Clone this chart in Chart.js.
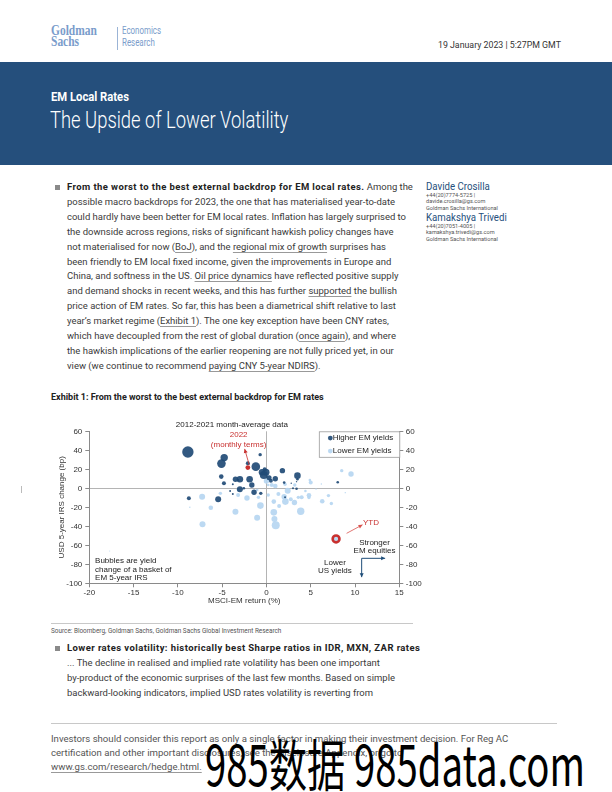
<!DOCTYPE html>
<html><head><meta charset="utf-8">
<script src="https://cdn.jsdelivr.net/npm/chart.js@4.4.1/dist/chart.umd.min.js"></script>
<style>
html,body{margin:0;padding:0;background:#fff;}
body{width:612px;height:792px;position:relative;overflow:hidden;font-family:Roboto,"Liberation Sans",sans-serif;color:#3a3a3a;}
.a{position:absolute;white-space:nowrap;}
.u{text-decoration:underline;text-decoration-color:#999;text-underline-offset:1.5px;}
.bl{font-size:10px;line-height:14.9px;}
.bl b{letter-spacing:0.42px;color:#222;}
.sq{position:absolute;width:5px;height:5px;background:#8a8a8a;}
.hr{position:absolute;height:1px;background:#c8c8c8;}
.sm{font-size:5.6px;line-height:6.4px;color:#555;}
.nm{font-size:10.5px;color:#254f7c;transform:scaleX(0.92);transform-origin:0 0;}
</style></head><body>

<!-- header -->
<div class="a" style="left:51px;top:24px;font-family:'Liberation Serif',serif;font-weight:bold;font-size:15.5px;line-height:11px;color:#7a9ccb;transform:scaleX(0.74);transform-origin:0 0;">Goldman<br>Sachs</div>
<div style="position:absolute;left:117px;top:27px;width:1px;height:23px;background:#9bb4d6;"></div>
<div class="a" style="left:122px;top:25px;font-size:11px;line-height:12px;color:#7a9ccb;transform:scaleX(0.72);transform-origin:0 0;">Economics<br>Research</div>
<div class="a" style="right:51px;top:39px;font-size:9.5px;color:#333;transform:scaleX(0.925);transform-origin:100% 0;">19 January 2023 | 5:27PM GMT</div>

<div style="position:absolute;left:0;top:62px;width:612px;height:103px;background:#254f7c;"></div>
<div class="a" style="left:51px;top:89px;font-size:12.5px;font-weight:bold;color:#fff;transform:scaleX(0.9);transform-origin:0 0;">EM Local Rates</div>
<div class="a" style="left:50px;top:107px;font-size:23px;color:#fff;font-weight:300;transform:scaleX(0.8);transform-origin:0 0;">The Upside of Lower Volatility</div>

<!-- first bullet -->
<div class="sq" style="left:55px;top:185px;"></div>
<div class="a bl" id="p1" style="left:67px;top:180px;">
<div><b>From the worst to the best external backdrop for EM local rates.</b> Among the</div>
<div>possible macro backdrops for 2023, the one that has materialised year-to-date</div>
<div id="refline">could hardly have been better for EM local rates. Inflation has largely surprised to</div>
<div>the downside across regions, risks of significant hawkish policy changes have</div>
<div>not materialised for now (<span class="u">BoJ</span>), and the <span class="u">regional mix of growth</span> surprises has</div>
<div>been friendly to EM local fixed income, given the improvements in Europe and</div>
<div>China, and softness in the US. <span class="u">Oil price dynamics</span> have reflected positive supply</div>
<div>and demand shocks in recent weeks, and this has further <span class="u">supported</span> the bullish</div>
<div>price action of EM rates. So far, this has been a diametrical shift relative to last</div>
<div>year’s market regime (<span class="u">Exhibit 1</span>). The one key exception have been CNY rates,</div>
<div>which have decoupled from the rest of global duration (<span class="u">once again</span>), and where</div>
<div>the hawkish implications of the earlier reopening are not fully priced yet, in our</div>
<div>view (we continue to recommend <span class="u">paying CNY 5-year NDIRS</span>).</div>
</div>

<!-- authors -->
<div class="a nm" style="left:426px;top:180px;">Davide Crosilla</div>
<div class="a sm" style="left:426px;top:192px;">+44(20)7774-5725 |<br>davide.crosilla@gs.com<br>Goldman Sachs International</div>
<div class="a nm" style="left:426px;top:211px;">Kamakshya Trivedi</div>
<div class="a sm" style="left:426px;top:223px;">+44(20)7051-4005 |<br>kamakshya.trivedi@gs.com<br>Goldman Sachs International</div>

<div style="position:absolute;left:21px;top:486px;width:1px;height:7px;background:#bbb;"></div>

<!-- exhibit -->
<div class="a" style="left:51px;top:392px;font-size:9px;font-weight:bold;color:#222;">Exhibit 1: From the worst to the best external backdrop for EM rates</div>
<canvas id="c" width="390" height="200" style="position:absolute;left:40px;top:410px;"></canvas>
<div class="hr" style="left:51px;top:623px;width:362px;"></div>
<div class="a" style="left:51px;top:627px;font-size:6.4px;color:#555;">Source: Bloomberg, Goldman Sachs, Goldman Sachs Global Investment Research</div>

<!-- second bullet -->
<div class="sq" style="left:55px;top:646px;"></div>
<div class="a bl" id="p2" style="left:67px;top:641px;">
<div><b>Lower rates volatility: historically best Sharpe ratios in IDR, MXN, ZAR rates</b></div>
<div>... The decline in realised and implied rate volatility has been one important</div>
<div>by-product of the economic surprises of the last few months. Based on simple</div>
<div>backward-looking indicators, implied USD rates volatility is reverting from</div>
</div>

<div class="hr" style="left:51px;top:723px;width:506px;"></div>
<div class="a" id="disc" style="left:51px;top:732px;font-size:9.6px;line-height:14px;color:#555;">
<div>Investors should consider this report as only a single factor in making their investment decision. For Reg AC</div>
<div>certification and other important disclosures, see the Disclosure Appendix, or go to</div>
<div class="u">www.gs.com/research/hedge.html.</div>
</div>
<svg style="position:absolute;left:205px;top:726px;overflow:visible;" width="385" height="66">
<text x="0" y="60" font-family="Noto Sans CJK SC, Noto Sans, sans-serif" font-size="56" fill="#000" textLength="380" lengthAdjust="spacingAndGlyphs">985数据 985data.com</text>
</svg>

<script>
// ---------------- data ----------------
const xTickValues = [-20, -15, -10, -5, 0, 5, 10, 15];
const yTickValues = [-100, -80, -60, -40, -20, 0, 20, 40, 60];

// Higher EM yields (2012-2021 month averages): MSCI-EM return (%), USD 5y IRS change (bp), bubble size
const higherX = [-8.87,-4.77,-5.08,-0.71,-2.1,-1.2,-0.5,-0.3,-0.05,1.0,1.8,3.5,3.5,-5.1,-4.8,-3.5,-3.0,-1.9,-1.65,-3.0,-1.4,-0.64,-8.76,-5.45,-3.8,-3.2,-4.1,-3.8,-2.55,0.5,2.0,3.0,3.4,8.05,2.1,2.8,3.4,0.3,-0.2];
const higherY = [38.2,32.3,26.0,35.4,26.3,22.8,16.8,14.0,17.0,10.0,18.6,13.3,9.5,12.3,5.3,9.5,9.5,9.5,3.5,-1.0,-4.2,-5.3,-10.5,-11.6,4.2,8.8,-2.8,-6.0,0.0,8.0,6.0,0.0,-0.4,6.3,-9.5,5.3,7.0,11.0,20.0];
const higherR = [5.7,3.7,4.3,1.7,2.0,4.3,3.3,4.0,3.5,2.7,2.7,3.3,1.3,2.3,2.0,2.7,3.3,3.3,2.7,3.0,2.7,1.7,2.0,3.0,1.0,1.0,1.0,1.0,1.3,2.0,1.3,1.0,1.3,1.3,1.0,0.7,0.7,2.5,2.0];

// Lower EM yields
const lowerX = [-7.26,-7.22,-6.28,-5.2,-3.5,-3.2,-2.2,-1.05,-0.68,0.83,0.9,1.05,0.83,1.43,2.14,2.4,1.35,3.87,3.16,3.98,4.8,5.0,4.9,6.3,7.0,7.33,8.5,9.55,0.0,0.6,1.0,2.0,3.6,4.4,2.1,-1.05,0.2,-3.16,-0.9,-8.65,-17.7,5.6,6.2,8.9,0.2,3.2,2.75,4.8];
const lowerY = [-8.8,-37.9,-20.4,-5.3,-24.6,-7.0,-10.2,-30.9,-18.2,-25.3,-32.3,-39.0,-14.0,-18.6,-14.0,-2.5,-6.0,-24.2,-15.0,-9.5,-7.4,6.0,8.8,-13.7,-7.7,-16.0,18.6,15.0,7.7,3.5,2.5,-8.8,-9.5,-2.8,4.2,-1.8,-7.0,-1.8,-9.5,-20.0,-66.0,-0.7,4.6,-4.6,3.5,3.5,-11.6,-9.8];
const lowerR = [3.0,3.0,2.3,1.7,3.0,2.0,2.7,3.0,3.3,3.3,3.0,4.0,2.3,2.0,3.3,3.0,2.0,3.7,2.7,2.0,2.3,2.0,1.3,2.3,1.7,1.7,1.7,2.7,2.7,2.0,2.3,2.7,1.7,1.3,1.7,1.3,1.7,1.7,1.7,0.7,0.5,0.7,0.7,0.7,1.3,1.7,2.0,1.7];

// 2022 (monthly terms) and 2023 year-to-date
const point2022 = {x: -2.1, y: 21.8, r: 2.4};
const pointYTD = {x: 7.86, y: -53.3, r: 3.4};

const seriesLabels = ['Higher EM yields', 'Lower EM yields'];

// ---------------- styles ----------------
const DARK = 'rgba(33,75,118,0.92)';
const LIGHT = 'rgba(182,214,241,0.92)';
const RED = '#c8302f';
const FONT = '"Liberation Sans", Arial, sans-serif';

(function(){
  const ref = document.getElementById('refline');
  const w = ref.getBoundingClientRect().width;
  const fs = 10 * 345 / w;
  document.getElementById('p1').style.fontSize = fs + 'px';
  document.getElementById('p2').style.fontSize = fs + 'px';
})();

const zip = (xs, ys, rs) => xs.map((x, i) => ({x, y: ys[i], r: rs[i]}));

const annotations = {
  id: 'annotations',
  afterDatasetsDraw(chart) {
    const {ctx, scales: {x, y}, chartArea} = chart;
    const px = v => x.getPixelForValue(v), py = v => y.getPixelForValue(v);
    ctx.save();
    ctx.font = '8px ' + FONT;
    ctx.textBaseline = 'middle';
    const text = (t, dx, dy, color, align) => {
      ctx.fillStyle = color; ctx.textAlign = align || 'center';
      ctx.fillText(t, px(dx), py(dy));
    };
    const arrow = (x1, y1, x2, y2, color, w) => {
      const X1 = px(x1), Y1 = py(y1), X2 = px(x2), Y2 = py(y2);
      ctx.strokeStyle = color; ctx.fillStyle = color; ctx.lineWidth = w || 0.8;
      ctx.beginPath(); ctx.moveTo(X1, Y1); ctx.lineTo(X2, Y2); ctx.stroke();
      const a = Math.atan2(Y2 - Y1, X2 - X1), L = 4, H = 2;
      ctx.beginPath();
      ctx.moveTo(X2, Y2);
      ctx.lineTo(X2 - L * Math.cos(a) + H * Math.sin(a), Y2 - L * Math.sin(a) - H * Math.cos(a));
      ctx.lineTo(X2 - L * Math.cos(a) - H * Math.sin(a), Y2 - L * Math.sin(a) + H * Math.cos(a));
      ctx.closePath(); ctx.fill();
    };
    text('2012-2021 month-average data', -3.9, 66.6, '#222');
    text('2022', -3.14, 55.8, RED);
    text('(monthly terms)', -3.14, 46.3, RED);
    arrow(-1.94, 24.5, -2.46, 41.5, RED);
    text('YTD', 11.8, -36.2, RED);
    arrow(9.05, -47.4, 10.85, -38.4, '#d9534f');
    text('Stronger', 12.2, -57.3, '#222');
    text('EM equities', 12.2, -65.7, '#222');
    text('Lower', 7.73, -77.9, '#222');
    text('US yields', 7.73, -87.0, '#222');
    arrow(10.75, -73.7, 13.4, -73.7, '#1f4e79', 1);
    arrow(10.75, -73.7, 10.75, -93.5, '#1f4e79', 1);
    text('Bubbles are yield', -19.35, -76.5, '#222', 'left');
    text('change of a basket of', -19.35, -85.7, '#222', 'left');
    text('EM 5-year IRS', -19.35, -94.7, '#222', 'left');

    // legend box
    const bx = chartArea.right - 80, by = chartArea.top + 0.5, bw = 80.5, bh = 25.5;
    ctx.strokeStyle = '#9a9a9a'; ctx.lineWidth = 0.8;
    ctx.fillStyle = '#fff';
    ctx.fillRect(bx, by, bw, bh);
    ctx.strokeRect(bx, by, bw, bh);
    const cols = [DARK, LIGHT];
    seriesLabels.forEach((lab, i) => {
      const yy = by + 6.3 + i * 13;
      ctx.fillStyle = cols[i];
      ctx.beginPath(); ctx.arc(bx + 11, yy, 2.4, 0, Math.PI * 2); ctx.fill();
      ctx.fillStyle = '#222'; ctx.textAlign = 'left';
      ctx.fillText(lab, bx + 13.5, yy);
    });
    ctx.restore();
  }
};

const tickFont = {family: FONT, size: 8};
const zeroGrid = c => (c.tick && c.tick.value === 0) ? '#b4b4b4' : 'rgba(0,0,0,0)';

new Chart(document.getElementById('c'), {
  type: 'bubble',
  data: {
    datasets: [
      {label: 'YTD', data: [pointYTD], backgroundColor: '#bcdaf3', borderColor: RED, borderWidth: 2.6, order: 0},
      {label: '2022', data: [point2022], backgroundColor: RED, borderWidth: 0, order: 1},
      {label: seriesLabels[0], data: zip(higherX, higherY, higherR), backgroundColor: DARK, borderWidth: 0, order: 2},
      {label: seriesLabels[1], data: zip(lowerX, lowerY, lowerR), backgroundColor: LIGHT, borderWidth: 0, order: 3}
    ]
  },
  options: {
    responsive: false,
    animation: false,
    events: [],
    layout: {padding: {top: 21.3, left: 0, right: 0, bottom: 0}},
    plugins: {legend: {display: false}, tooltip: {enabled: false}},
    scales: {
      x: {
        type: 'linear', position: 'bottom', min: -20, max: 15,
        afterBuildTicks: s => { s.ticks = xTickValues.map(v => ({value: v})); },
        ticks: {font: tickFont, color: '#333', padding: 1, maxRotation: 0, autoSkip: false},
        grid: {color: zeroGrid, tickColor: '#8a8a8a', tickLength: 4, lineWidth: 1},
        border: {display: true, color: '#8a8a8a'},
        title: {display: true, text: 'MSCI-EM return (%)', font: tickFont, color: '#333', padding: {top: 0, bottom: 4.2}},
        afterFit: s => { s.height = 26.7; }
      },
      y: {
        type: 'linear', position: 'left', min: -100, max: 60,
        afterBuildTicks: s => { s.ticks = yTickValues.map(v => ({value: v})); },
        ticks: {font: tickFont, color: '#333', padding: 3, autoSkip: false},
        grid: {color: zeroGrid, tickColor: '#8a8a8a', tickLength: 4, lineWidth: 1},
        border: {display: true, color: '#8a8a8a'},
        title: {display: true, text: 'USD 5-year IRS change (bp)', font: tickFont, color: '#333', padding: {top: 17.2, bottom: 0}},
        afterFit: s => { s.width = 49.3; }
      },
      y2: {
        type: 'linear', position: 'right', min: -100, max: 60,
        afterBuildTicks: s => { s.ticks = yTickValues.map(v => ({value: v})); },
        ticks: {font: tickFont, color: '#333', padding: 2.5, autoSkip: false},
        grid: {drawOnChartArea: false, tickColor: '#8a8a8a', tickLength: 4},
        border: {display: true, color: '#8a8a8a'},
        afterFit: s => { s.width = 30.7; }
      }
    }
  },
  plugins: [annotations]
});
</script>
</body></html>
